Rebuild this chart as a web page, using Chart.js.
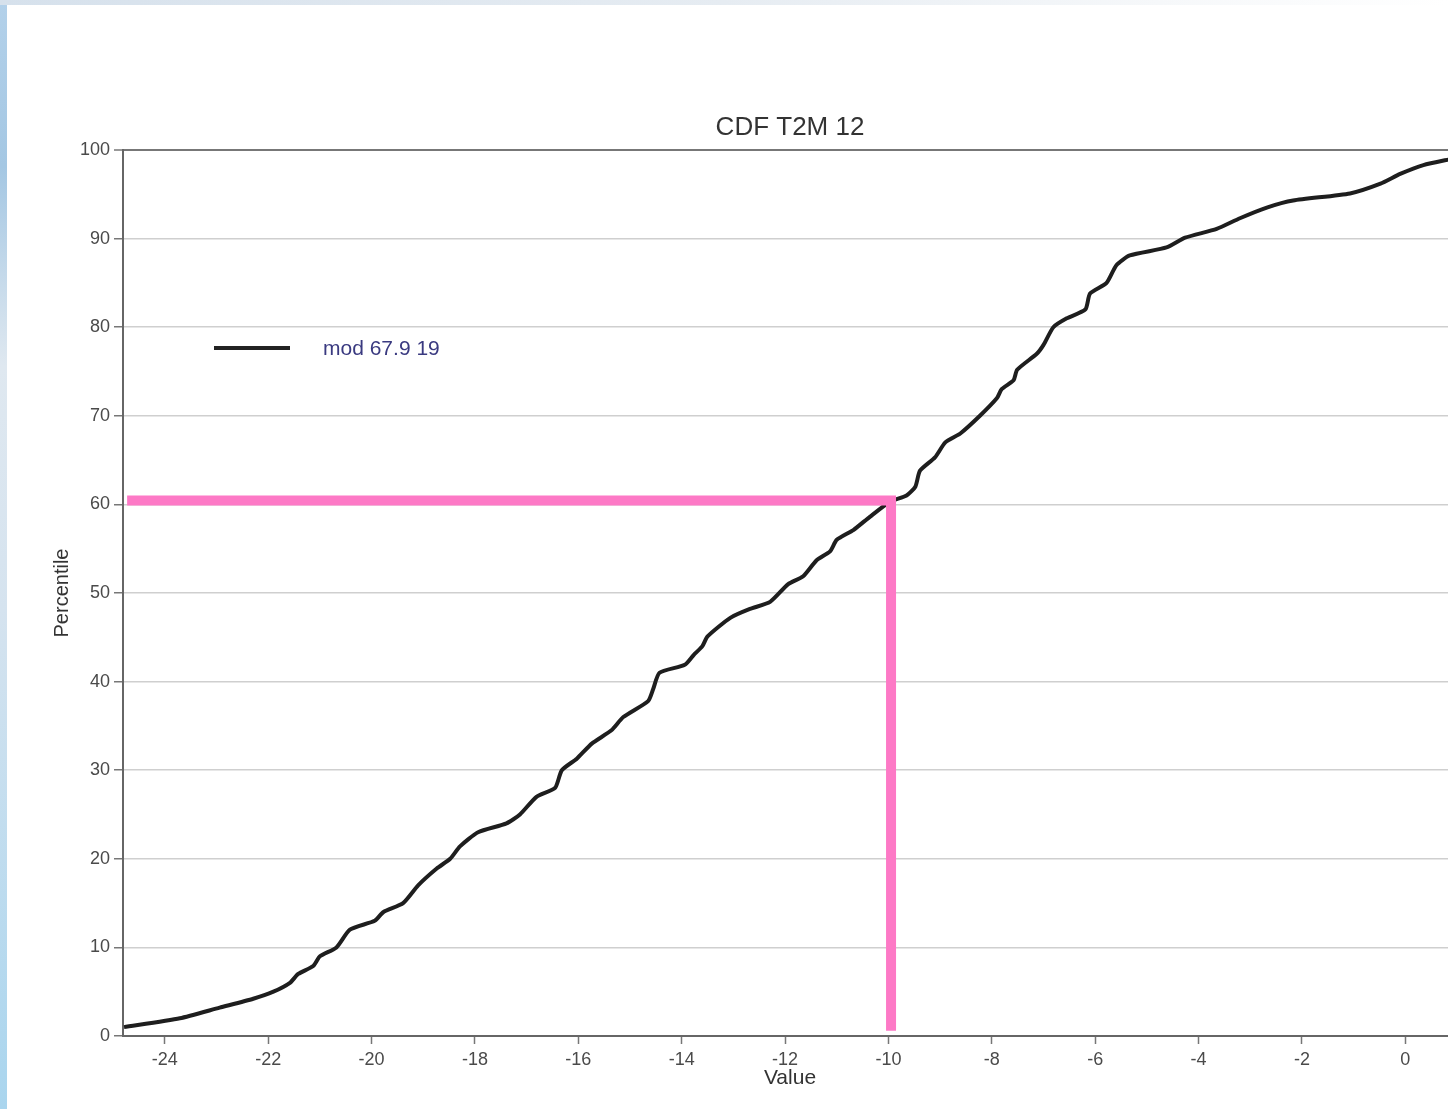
<!DOCTYPE html>
<html>
<head>
<meta charset="utf-8">
<script src="https://cdn.jsdelivr.net/npm/chart.js@4.4.1/dist/chart.umd.min.js"></script>
<style>
  html, body { margin: 0; padding: 0; width: 1448px; height: 1109px; overflow: hidden; }
  body {
    background: linear-gradient(to bottom, #b3d1ea 0%, #a4c7e3 15%, #dfe8f0 33%, #d5e3ef 55%, #a9d5ee 100%);
    position: relative;
  }
  #topband {
    position: absolute; left: 0; top: 0; width: 1448px; height: 5px;
    background: linear-gradient(to right, #d6e1ec 0%, #e6ecf2 50%, #f6f8fa 80%, #ffffff 100%);
  }
  #panel {
    position: absolute; left: 7px; top: 5px; width: 1441px; height: 1104px; background: #ffffff;
  }
  #chart { position: absolute; left: 0; top: 0; }
</style>
</head>
<body>
<div id="topband"></div>
<div id="panel"></div>
<canvas id="chart" width="1465" height="1109"></canvas>
<script>
// Donnees
const titre = "CDF T2M 12";
const serieNom = "mod 67.9 19";
const xTicks = [-24, -22, -20, -18, -16, -14, -12, -10, -8, -6, -4, -2, 0];
const yTicks = [0, 10, 20, 30, 40, 50, 60, 70, 80, 90, 100];

// Courbe CDF (valeur, percentile)
const valeurs = [-24.79, -23.71, -22.94, -22.29, -21.90, -21.58, -21.42, -21.13, -21.00, -20.68,
  -20.42, -19.94, -19.77, -19.39, -19.10, -18.74, -18.48, -18.29, -17.94, -17.39,
  -17.13, -16.81, -16.45, -16.32, -16.03, -15.74, -15.36, -15.13, -14.65, -14.55,
  -14.43, -13.94, -13.77, -13.60, -13.50, -13.06, -12.68, -12.29, -11.94, -11.65,
  -11.39, -11.13, -11.00, -10.68, -10.36, -9.97, -9.65, -9.48, -9.39, -9.10,
  -8.90, -8.61, -8.23, -7.90, -7.81, -7.58, -7.51, -7.13, -7.00, -6.81,
  -6.55, -6.19, -6.10, -5.78, -5.59, -5.33, -4.62, -4.26, -3.65, -3.20,
  -2.68, -2.17, -1.07, -0.48, -0.10, 0.35, 0.90];
const percentiles = [1.0, 2.0, 3.2, 4.2, 5.0, 6.0, 7.0, 7.9, 9.0, 10.0,
  12.0, 13.0, 14.0, 15.0, 17.0, 18.9, 20.0, 21.4, 23.0, 24.0,
  25.0, 27.0, 28.0, 30.0, 31.3, 33.0, 34.5, 36.0, 37.8, 39.2,
  41.0, 41.9, 43.0, 44.0, 45.1, 47.2, 48.2, 49.0, 51.0, 51.9,
  53.7, 54.7, 56.0, 57.1, 58.6, 60.3, 61.0, 62.0, 63.8, 65.3,
  67.0, 68.0, 70.0, 72.0, 73.0, 74.0, 75.2, 77.0, 78.0, 80.0,
  81.0, 82.0, 83.8, 85.0, 87.0, 88.1, 89.0, 90.1, 91.1, 92.3,
  93.5, 94.3, 95.1, 96.2, 97.3, 98.3, 99.0];

// Lignes roses (lecture du percentile 60 a -10)
const roseX = [-24.73, -9.95, -9.95];
const roseY = [60.45, 60.45, 0.6];

const police = "'Liberation Sans', Arial, Helvetica, sans-serif";

// Textes : titre, axes, legende
const textesPlugin = {
  id: "textes",
  afterDraw(chart) {
    const ctx = chart.ctx;
    const a = chart.chartArea;
    const cx = (a.left + a.right) / 2;
    ctx.save();
    ctx.textAlign = "center";
    ctx.textBaseline = "middle";
    ctx.fillStyle = "#333";
    ctx.font = "26px " + police;
    ctx.fillText(titre, cx, 128);

    ctx.font = "21px " + police;
    ctx.fillText("Value", cx, 1078);

    ctx.save();
    ctx.translate(62, (a.top + a.bottom) / 2);
    ctx.rotate(-Math.PI / 2);
    ctx.font = "20px " + police;
    ctx.fillText("Percentile", 0, 0);
    ctx.restore();

    // Legende
    ctx.strokeStyle = "#222";
    ctx.lineWidth = 4;
    ctx.beginPath();
    ctx.moveTo(214, 348);
    ctx.lineTo(290, 348);
    ctx.stroke();
    ctx.textAlign = "left";
    ctx.fillStyle = "#3a3a80";
    ctx.font = "21px " + police;
    ctx.fillText(chart.data.datasets[1].label, 323, 349);
    ctx.restore();
  }
};

new Chart(document.getElementById("chart"), {
  type: "line",
  data: {
    datasets: [
      {
        label: "lecture",
        data: roseX.map((x, i) => ({ x: x, y: roseY[i] })),
        borderColor: "#fd79c6",
        borderWidth: 10,
        borderJoinStyle: "miter",
        borderCapStyle: "butt",
        pointRadius: 0,
        tension: 0,
        order: 0
      },
      {
        label: serieNom,
        data: valeurs.map((x, i) => ({ x: x, y: percentiles[i] })),
        borderColor: "#1e1e1e",
        borderWidth: 4,
        pointRadius: 0,
        tension: 0.2,
        order: 1
      }
    ]
  },
  options: {
    responsive: false,
    animation: false,
    layout: { padding: { top: 150, right: 8, left: 0, bottom: 0 } },
    plugins: {
      legend: { display: false },
      title: { display: false },
      tooltip: { enabled: false }
    },
    scales: {
      x: {
        type: "linear",
        min: -24.81,
        max: 1.0,
        afterFit(scale) { scale.height = 73; },
        afterBuildTicks(scale) { scale.ticks = xTicks.map(v => ({ value: v })); },
        ticks: { color: "#4a4a4a", font: { size: 18, family: police }, padding: 5, maxRotation: 0 },
        grid: { drawOnChartArea: false, tickLength: 8, tickColor: "#777", tickWidth: 1.5 },
        border: { color: "#666", width: 2 }
      },
      y: {
        type: "linear",
        min: 0,
        max: 100,
        afterFit(scale) { scale.width = 123; },
        afterBuildTicks(scale) { scale.ticks = yTicks.map(v => ({ value: v })); },
        ticks: { color: "#4a4a4a", font: { size: 18, family: police }, padding: 4 },
        grid: {
          color: c => (c.tick && c.tick.value === 100 ? "#777" : "#cfcfcf"),
          lineWidth: c => (c.tick && c.tick.value === 100 ? 2 : 1.5),
          tickLength: 9,
          tickColor: "#777",
          tickWidth: 1.5
        },
        border: { color: "#666", width: 2 }
      }
    }
  },
  plugins: [textesPlugin]
});
</script>
</body>
</html>
